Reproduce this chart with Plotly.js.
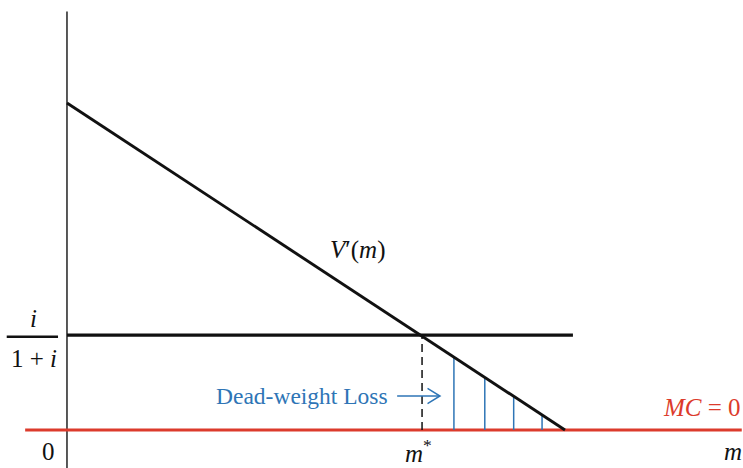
<!DOCTYPE html>
<html>
<head>
<meta charset="utf-8">
<script src="https://cdn.plot.ly/plotly-3.0.1.min.js"></script>
<style>
  html, body { margin: 0; padding: 0; background: #ffffff; }
  #chart { width: 743px; height: 468px; }
</style>
</head>
<body>
<div id="chart"></div>
<script>
// Money demand diagram: marginal value of money V'(m) against the holding cost
// i/(1+i) and the marginal cost of producing money MC = 0.

// Marginal value curve V'(m): endpoints on the two axes
const demandM = [0, 10];
const demandV = [10, 0];

// Private cost of holding money, i/(1+i)
const holdingCost = 2.9;
const holdingCostSpan = [0, 10.16];

// Marginal cost of money
const mcLevel = 0;
const mcSpan = [-0.84, 13.55];

// Equilibrium quantity under the holding cost
const mStar = 7.13;

// Hatching inside the dead-weight loss triangle
const dwlM = [7.77, 8.39, 8.97, 9.54];

// Vertical axis extent
const axisSpan = [-1.17, 12.8];

const BLACK = '#111111';
const RED = '#dc3b2c';
const BLUE = '#2e75b6';
const SERIF = '"Liberation Serif", "DejaVu Serif", serif';
const MATH_SIZE = 25;

function vPrime(m) {
  const slope = (demandV[1] - demandV[0]) / (demandM[1] - demandM[0]);
  return demandV[0] + slope * (m - demandM[0]);
}

const traces = [];

// vertical axis
traces.push({
  x: [0, 0], y: axisSpan, mode: 'lines',
  line: { color: '#222222', width: 1.5 }, hoverinfo: 'skip'
});

// MC = 0 line
traces.push({
  x: mcSpan, y: [mcLevel, mcLevel], mode: 'lines',
  line: { color: RED, width: 3.2 }, hoverinfo: 'skip'
});

// hatching lines of the dead-weight loss
dwlM.forEach(function (m) {
  traces.push({
    x: [m, m], y: [mcLevel, vPrime(m)], mode: 'lines',
    line: { color: BLUE, width: 1.5 }, hoverinfo: 'skip'
  });
});

// dashed drop line at m*
traces.push({
  x: [mStar, mStar], y: [mcLevel, holdingCost], mode: 'lines',
  line: { color: BLACK, width: 1.5, dash: '8px,5px' }, hoverinfo: 'skip'
});

// holding cost line
traces.push({
  x: holdingCostSpan, y: [holdingCost, holdingCost], mode: 'lines',
  line: { color: BLACK, width: 3.1 }, hoverinfo: 'skip'
});

// V'(m)
traces.push({
  x: demandM, y: demandV, mode: 'lines',
  line: { color: BLACK, width: 2.9 }, hoverinfo: 'skip'
});

// arrow pointing from the label into the hatched area
const arrowY = 1.04;
const arrowTail = 6.63;
const arrowTip = 7.49;
traces.push({
  x: [arrowTail, arrowTip, null, arrowTip - 0.25, arrowTip, arrowTip - 0.25],
  y: [arrowY, arrowY, null, arrowY + 0.23, arrowY, arrowY - 0.23],
  mode: 'lines', line: { color: BLUE, width: 1.5 }, hoverinfo: 'skip'
});

function label(x, y, text, opts) {
  return Object.assign({
    x: x, y: y, xref: 'x', yref: 'y', text: text, showarrow: false,
    font: { family: SERIF, size: MATH_SIZE, color: BLACK }
  }, opts || {});
}

const annotations = [
  label(-0.38, -0.67, '0'),
  label(mStar - 0.07, -0.64, '<i>m</i><sup>*</sup>'),
  label(13.38, -0.67, '<i>m</i>'),
  label(13.57, 0.68, '<i>MC</i> = 0', { xanchor: 'right', font: { family: SERIF, size: MATH_SIZE, color: RED } }),
  label(5.84, 5.5, '<i>V</i>\u2032(<i>m</i>)'),
  label(-0.67, holdingCost + 0.52, '<i>i</i>'),
  label(-0.67, holdingCost - 0.7, '1 + <i>i</i>'),
  label(4.72, arrowY, 'Dead-weight Loss', { font: { family: SERIF, size: 23.5, color: BLUE } })
];

const layout = {
  width: 743, height: 468,
  margin: { l: 0, r: 0, t: 0, b: 0 },
  paper_bgcolor: '#ffffff', plot_bgcolor: '#ffffff',
  showlegend: false,
  xaxis: { range: [-1.345, 13.575], visible: false, fixedrange: true },
  yaxis: { range: [-1.162, 13.15], visible: false, fixedrange: true },
  annotations: annotations,
  shapes: [{
    // fraction bar of i/(1+i)
    type: 'line', xref: 'x', yref: 'y',
    x0: -1.21, x1: -0.18, y0: holdingCost - 0.05, y1: holdingCost - 0.05,
    line: { color: BLACK, width: 2.4 }
  }]
};

Plotly.newPlot('chart', traces, layout, { staticPlot: true, displayModeBar: false });
</script>
</body>
</html>
